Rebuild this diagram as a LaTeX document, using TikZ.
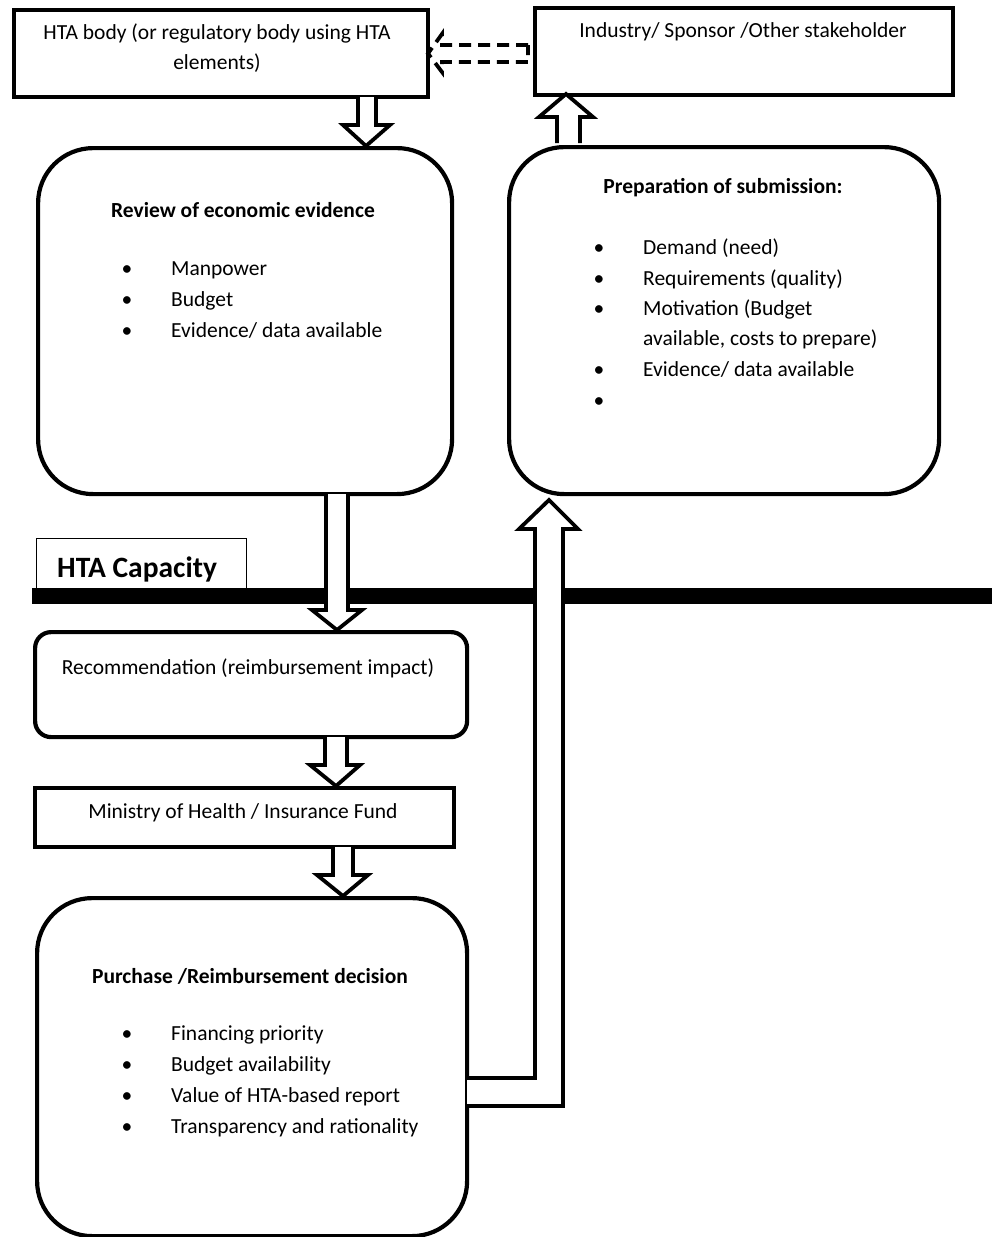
\documentclass[tikz,border=0pt]{standalone}
\usepackage{fontspec}
\setmainfont{Carlito}
\begin{document}
\begin{tikzpicture}[x=1pt,y=-1pt,
  box/.style={draw, line width=4.2pt, inner sep=0pt, anchor=north west},
  txt/.style={inner sep=0pt, font=\fontsize{21.5}{30}\selectfont},
  ttl/.style={inner sep=0pt, font=\fontsize{21.5}{30}\selectfont\bfseries},
  itm/.style={inner sep=0pt, anchor=base west, font=\fontsize{21.5}{30}\selectfont},
  blt/.style={inner sep=0pt, anchor=base, font=\fontsize{21.5}{30}\selectfont},
  barrow/.style={draw, fill=white, line width=3.8pt, line join=miter},
  darrow/.style={draw, fill=white, line width=3.8pt, line join=miter, dash pattern=on 12pt off 7pt}
]
\useasboundingbox (0,0) rectangle (992,1237);

% boxes
\node[box, minimum width=414pt, minimum height=87pt] (hta) at (12,8) {};
\node[box, minimum width=418pt, minimum height=87pt] (ind) at (533,6) {};
\node[box, rounded corners=55pt, minimum width=414pt, minimum height=346pt] (rev) at (36,146) {};
\node[box, rounded corners=55pt, minimum width=430pt, minimum height=347pt] (prep) at (507,145) {};
\node[box, rounded corners=16pt, minimum width=432pt, minimum height=105pt] (rec) at (33,630) {};
\node[box, minimum width=419pt, minimum height=59pt] (moh) at (33,786) {};
\node[box, rounded corners=55pt, minimum width=430pt, minimum height=338pt] (pur) at (35,896) {};

% texts
\node[txt, align=center] (htatxt) at (217,48) {HTA body (or regulatory body using HTA\\elements)};
\node[txt] (indtxt) at (743,32) {Industry/ Sponsor /Other stakeholder};
\node[ttl] (revttl) at (243,210) {Review of economic evidence};
\node[ttl] (prepttl) at (723,188) {Preparation of submission:};
\node[ttl] (purttl) at (250,976) {Purchase /Reimbursement decision};
\node[txt] (rectxt) at (248,668) {Recommendation (reimbursement impact)};
\node[txt] (mohtxt) at (243,813) {Ministry of Health / Insurance Fund};

% review list
\node[blt] (rb1) at (127,275) {•}; \node[itm] (ri1) at (171,275) {Manpower};
\node[blt] (rb2) at (127,306) {•}; \node[itm] (ri2) at (171,306) {Budget};
\node[blt] (rb3) at (127,337) {•}; \node[itm] (ri3) at (171,337) {Evidence/ data available};

% preparation list
\node[blt] (pb1) at (599,254) {•}; \node[itm] (pi1) at (643,254) {Demand (need)};
\node[blt] (pb2) at (599,285) {•}; \node[itm] (pi2) at (643,285) {Requirements (quality)};
\node[blt] (pb3) at (599,315) {•}; \node[itm] (pi3) at (643,315) {Motivation (Budget};
\node[itm] (pi3b) at (643,345) {available, costs to prepare)};
\node[blt] (pb4) at (599,376) {•}; \node[itm] (pi4) at (643,376) {Evidence/ data available};
\node[blt] (pb5) at (599,407) {•};

% purchase list
\node[blt] (ub1) at (127,1040) {•}; \node[itm] (ui1) at (171,1040) {Financing priority};
\node[blt] (ub2) at (127,1071) {•}; \node[itm] (ui2) at (171,1071) {Budget availability};
\node[blt] (ub3) at (127,1102) {•}; \node[itm] (ui3) at (171,1102) {Value of HTA-based report};
\node[blt] (ub4) at (127,1133) {•}; \node[itm] (ui4) at (171,1133) {Transparency and rationality};

% HTA capacity bar and label
\fill[black] (32,588) rectangle (992,604);
\node[draw, line width=1pt, inner sep=0pt, anchor=north west, minimum width=210pt, minimum height=50pt] (caplbl) at (36,538) {};
\node[inner sep=0pt, anchor=base west, font=\fontsize{29.5}{30}\selectfont\bfseries] (captxt) at (57,577) {HTA Capacity};

% block arrows
\draw[barrow] (358,97) -- (358,125) -- (343,125) -- (366,146) -- (390,125) -- (376,125) -- (376,97);
\draw[barrow] (557,143) -- (557,117) -- (539,117) -- (566,94) -- (593,117) -- (580,117) -- (580,143);
\draw[barrow] (326,494) -- (326,610) -- (312,610) -- (337,630) -- (362,610) -- (348,610) -- (348,494);
\draw[barrow] (325,737) -- (325,765) -- (310,765) -- (336,786) -- (360,765) -- (347,765) -- (347,737);
\draw[barrow] (333,847) -- (333,875) -- (317,875) -- (343,896) -- (368,875) -- (353,875) -- (353,847);
\draw[barrow] (467,1078) -- (535,1078) -- (535,529) -- (519,529) -- (549,500) -- (578,529) -- (563,529) -- (563,1106) -- (467,1106);
\draw[darrow] (528,45) -- (442,45) -- (442,34) -- (428,53.5) -- (442,72) -- (442,62) -- (528,62) -- cycle;
\end{tikzpicture}
\end{document}
